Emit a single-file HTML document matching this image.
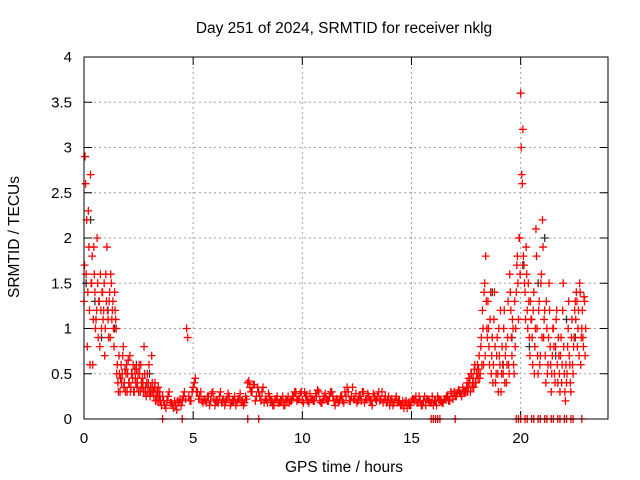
<!DOCTYPE html>
<html><head><meta charset="utf-8">
<style>
html,body{margin:0;padding:0;background:#fff;}
svg{display:block;font-family:"Liberation Sans",sans-serif;}
</style></head>
<body>
<svg id="chart" width="640" height="480">
<text x="344" y="33" text-anchor="middle" font-size="15.5">Day 251 of 2024, SRMTID for receiver nklg</text>
<text x="344" y="472" text-anchor="middle" font-size="15.5">GPS time / hours</text>
<text transform="translate(19,237) rotate(-90)" text-anchor="middle" font-size="15.5">SRMTID / TECUs</text>
</svg>
<script>
const xTicks=[0,5,10,15,20];
const yTicks=[0,0.5,1,1.5,2,2.5,3,3.5,4];
const yTickLabels=["0","0.5","1","1.5","2","2.5","3","3.5","4"];
const segStarts=[0,1.5,3.5,4.5,5.5,7.5,9.5,12,15,17.5,0.025,1.525,3.55,17.525];
const segSteps=[0.05,0.05,0.1,0.1,0.1,0.1,0.1,0.1,0.1,0.05,0.05,0.05,0.1,0.05];
const segA=[1.3,2.9,1.6,0.8,2.3,1.2,2.7,1.5,0.6,1.9,1.4,1.1,2.0,0.9,1.3,1.6,1.0,1.4,1.2,0.7,1.6,1.9,1.1,1.3,0.9,1.5,1.2,1.0,1.4,1.1];
const segB=[0.5,0.4,0.7,0.3,0.6,0.5,0.8,0.4,0.3,0.6,0.5,0.4,0.7,0.35,0.5,0.6,0.3,0.45,0.55,0.4,0.3,0.5,0.6,0.35,0.4,0.8,0.3,0.25,0.5,0.4,0.3,0.35,0.7,0.3,0.25,0.4,0.3,0.2,0.35,0.25];
const segC1=[0.2,0.25,0.15,0.2,0.3,0.18,0.12,0.15,0.2,0.22];
const segC2=[0.2,0.3,1.0,0.25,0.2,0.35,0.45,0.3,0.25,0.2];
const segC3=[0.22,0.18,0.25,0.2,0.3,0.15,0.2,0.25,0.18,0.22,0.2,0.28,0.15,0.2,0.25,0.18,0.22,0.2,0.15,0.25];
const segC4=[0.4,0.35,0.3,0.38,0.25,0.3,0.2,0.35,0.22,0.18,0.25,0.2,0.15,0.22,0.18,0.2,0.25,0.15,0.2,0.18];
const segC5=[0.2,0.25,0.3,0.22,0.28,0.2,0.3,0.25,0.18,0.22,0.2,0.28,0.32,0.2,0.18,0.25,0.22,0.2,0.3,0.25,0.15,0.22,0.2,0.25,0.18];
const segC6=[0.25,0.3,0.2,0.35,0.22,0.18,0.25,0.2,0.3,0.22,0.28,0.2,0.15,0.25,0.2,0.3,0.22,0.18,0.25,0.2,0.15,0.22,0.18,0.25,0.2,0.15,0.2,0.18,0.12,0.15];
const segC7=[0.2,0.22,0.25,0.18,0.2,0.15,0.25,0.22,0.2,0.18,0.15,0.2,0.25,0.2,0.18,0.22,0.25,0.2,0.3,0.22,0.25,0.28,0.3,0.25,0.3];
const segD=[0.3,0.4,0.35,0.45,0.3,0.5,0.4,0.35,0.6,0.4,0.5,0.45,0.7,0.5,0.9,1.2,0.6,1.5,1.8,1.0,
1.3,0.8,1.1,0.5,0.9,0.6,1.4,0.4,0.7,0.5,1.0,0.6,0.3,0.8,0.5,1.2,0.7,0.4,0.9,0.6,
1.6,1.2,0.7,1.0,0.5,0.8,1.4,1.8,1.1,2.0,3.6,2.7,3.2,1.7,1.4,1.9,1.2,1.5,0.9,1.3,
1.1,0.6,1.4,0.8,2.1,1.0,0.5,1.3,0.7,1.6,2.2,0.9,1.2,0.4,1.0,0.6,1.5,0.8,0.3,0.7,
1.0,0.5,0.8,1.2,0.4,0.7,0.3,0.9,0.6,1.5,0.5,0.2,0.4,0.8,1.3,0.6,0.3,1.1,0.5,0.9,
1.3,1.4,0.8,1.2,1.5,0.6,1.0,0.9,1.35,0.7];
const segE=[1.7,2.6,2.2,1.4,1.9,0.6,1.5,1.8,1.1,1.6,1.0,1.2,1.5,1.3,0.8,1.2,1.4,1.1,1.5,1.0,1.3,1.2,0.9,1.4,1.6,1.1,1.3,0.8,1.2,1.0];
const segF=[0.6,0.3,0.5,0.45,0.4,0.7,0.35,0.55,0.5,0.3,0.65,0.4,0.3,0.5,0.45,0.3,0.55,0.4,0.35,0.5,0.6,0.3,0.4,0.45,0.3,0.5,0.35,0.4,0.3,0.6,0.25,0.3,0.4,0.3,0.35,0.2,0.25,0.3,0.2,0.3];
const segG=[0.15,0.2,0.12,0.25,0.18,0.15,0.2,0.1,0.18,0.15,
0.25,0.22,0.9,0.2,0.3,0.4,0.3,0.22,0.3,0.18,
0.2,0.25,0.15,0.28,0.22,0.2,0.18,0.3,0.2,0.15,
0.22,0.25,0.18,0.2,0.15,0.22,0.28,0.2,0.18,0.22,
0.42,0.3,0.38,0.2,0.35,0.25,0.3,0.18,0.22,0.28,
0.2,0.15,0.22,0.25,0.18,0.2,0.15,0.22,0.25,0.2,
0.25,0.3,0.2,0.22,0.3,0.18,0.25,0.2,0.28,0.22,
0.2,0.25,0.3,0.18,0.22,0.28,0.2,0.25,0.3,0.2,
0.22,0.18,0.25,0.2,0.3,0.35,0.2,0.25,0.22,0.28,
0.2,0.25,0.3,0.18,0.22,0.25,0.2,0.28,0.22,0.25,
0.2,0.3,0.22,0.18,0.25,0.2,0.15,0.22,0.18,0.2,
0.15,0.12,0.2,0.18,0.15,0.22,0.2,0.18,0.25,0.15,
0.2,0.15,0.22,0.18,0.25,0.2,0.15,0.22,0.2,0.18,
0.22,0.25,0.2,0.28,0.3,0.25,0.32,0.28,0.35,0.3];
const segH=[0.35,0.3,0.45,0.4,0.5,0.35,0.45,0.55,0.4,0.5,0.6,0.55,0.45,0.8,0.6,1.0,1.4,0.7,1.3,0.9,
1.0,0.6,1.4,0.7,0.4,1.1,0.8,0.5,0.9,0.3,0.7,1.2,0.5,0.6,1.0,0.4,0.8,0.6,1.3,0.5,
1.4,0.9,1.1,0.6,1.3,1.0,1.7,1.5,2.0,1.6,3.0,2.6,1.8,1.5,1.1,1.6,1.0,1.3,0.7,1.1,
0.9,1.2,0.5,1.0,1.8,0.7,1.2,0.6,1.5,0.9,1.9,1.1,0.7,1.3,0.5,0.9,1.2,0.6,0.5,1.0,
0.8,0.4,1.1,0.6,0.9,0.5,0.7,0.4,1.2,0.8,0.3,0.6,0.5,1.0,0.7,0.4,0.9,0.6,0.8,1.2,
1.1,1.3,1.0,0.7,1.4,0.9,1.2,0.8,1.3,1.0];
const segValues=[segA,segB,segC1,segC2,segC3,segC4,segC5,segC6,segC7,segD,segE,segF,segG,segH];
const zeroTimes=[3.6,4.5,7.5,8.0,15.9,16.0,16.1,16.2,16.3,17.0,19.8,19.9,20.0,20.2,20.3,20.5,20.6,20.8,20.9,21.1,21.2,21.4,21.5,21.7,21.8,22.0,22.1,22.3,22.4,22.8];
const blackTimes=[0.1,0.3,0.5,0.8,1.1,1.4,2.4,3.0,18.7,19.2,19.6,20.1,20.4,20.8,21.1,21.6,22.1,22.5];
const blackValues=[1.5,2.2,1.3,0.9,1.2,1.0,0.6,0.5,1.4,0.6,0.9,1.7,0.8,1.5,2.0,0.7,1.1,0.9];

const L=84,R=608,T=57,B=419;
const xs=v=>L+(v/24)*(R-L);
const ys=v=>B-(v/4)*(B-T);
const svg=document.getElementById('chart');
const NS='http://www.w3.org/2000/svg';
function mk(tag,attrs){const e=document.createElementNS(NS,tag);for(const k in attrs)e.setAttribute(k,attrs[k]);svg.appendChild(e);return e;}

yTicks.forEach((v,i)=>{
  if(v>0&&v<4){const g=mk('line',{x1:L,x2:R,y1:ys(v),y2:ys(v),stroke:'#a0a0a0','stroke-dasharray':'2,3'});
  
  }
  const t=mk('line',{x1:L,x2:L+8,y1:ys(v),y2:ys(v),stroke:'#000'});
  
  
  const t2=mk('line',{x1:R,x2:R-8,y1:ys(v),y2:ys(v),stroke:'#000'});
  
  
  const lb=mk('text',{x:L-12,y:ys(v)+5,'text-anchor':'end','font-size':15});
  lb.textContent=yTickLabels[i];
  
  
});
xTicks.forEach(v=>{
  if(v>0){const g=mk('line',{x1:xs(v),x2:xs(v),y1:T,y2:B,stroke:'#a0a0a0','stroke-dasharray':'2,3'});
  
  }
  const t=mk('line',{x1:xs(v),x2:xs(v),y1:B,y2:B-8,stroke:'#000'});
  
  
  const t2=mk('line',{x1:xs(v),x2:xs(v),y1:T,y2:T+8,stroke:'#000'});
  
  
  const lb=mk('text',{x:xs(v),y:B+24,'text-anchor':'middle','font-size':15});
  lb.textContent=String(v);
  
  
});

function plus(t,v,color,name){
  const x=xs(t),y=ys(v);
  const p=mk('path',{d:`M${x-4},${y}H${x+4}M${x},${y-4}V${y+4}`,stroke:color,'stroke-width':1.3,fill:'none'});
  
  
}
blackTimes.forEach((t,i)=>plus(t,blackValues[i],'#303030','black-point'));
segValues.forEach((arr,s)=>arr.forEach((v,i)=>plus(segStarts[s]+i*segSteps[s],v,'#ff0000','srmtid-point')));
zeroTimes.forEach(t=>plus(t,0,'#ff0000','zero-point'));

const fr=mk('rect',{x:L,y:T,width:R-L,height:B-T,fill:'none',stroke:'#000'});


</script>
</body></html>
